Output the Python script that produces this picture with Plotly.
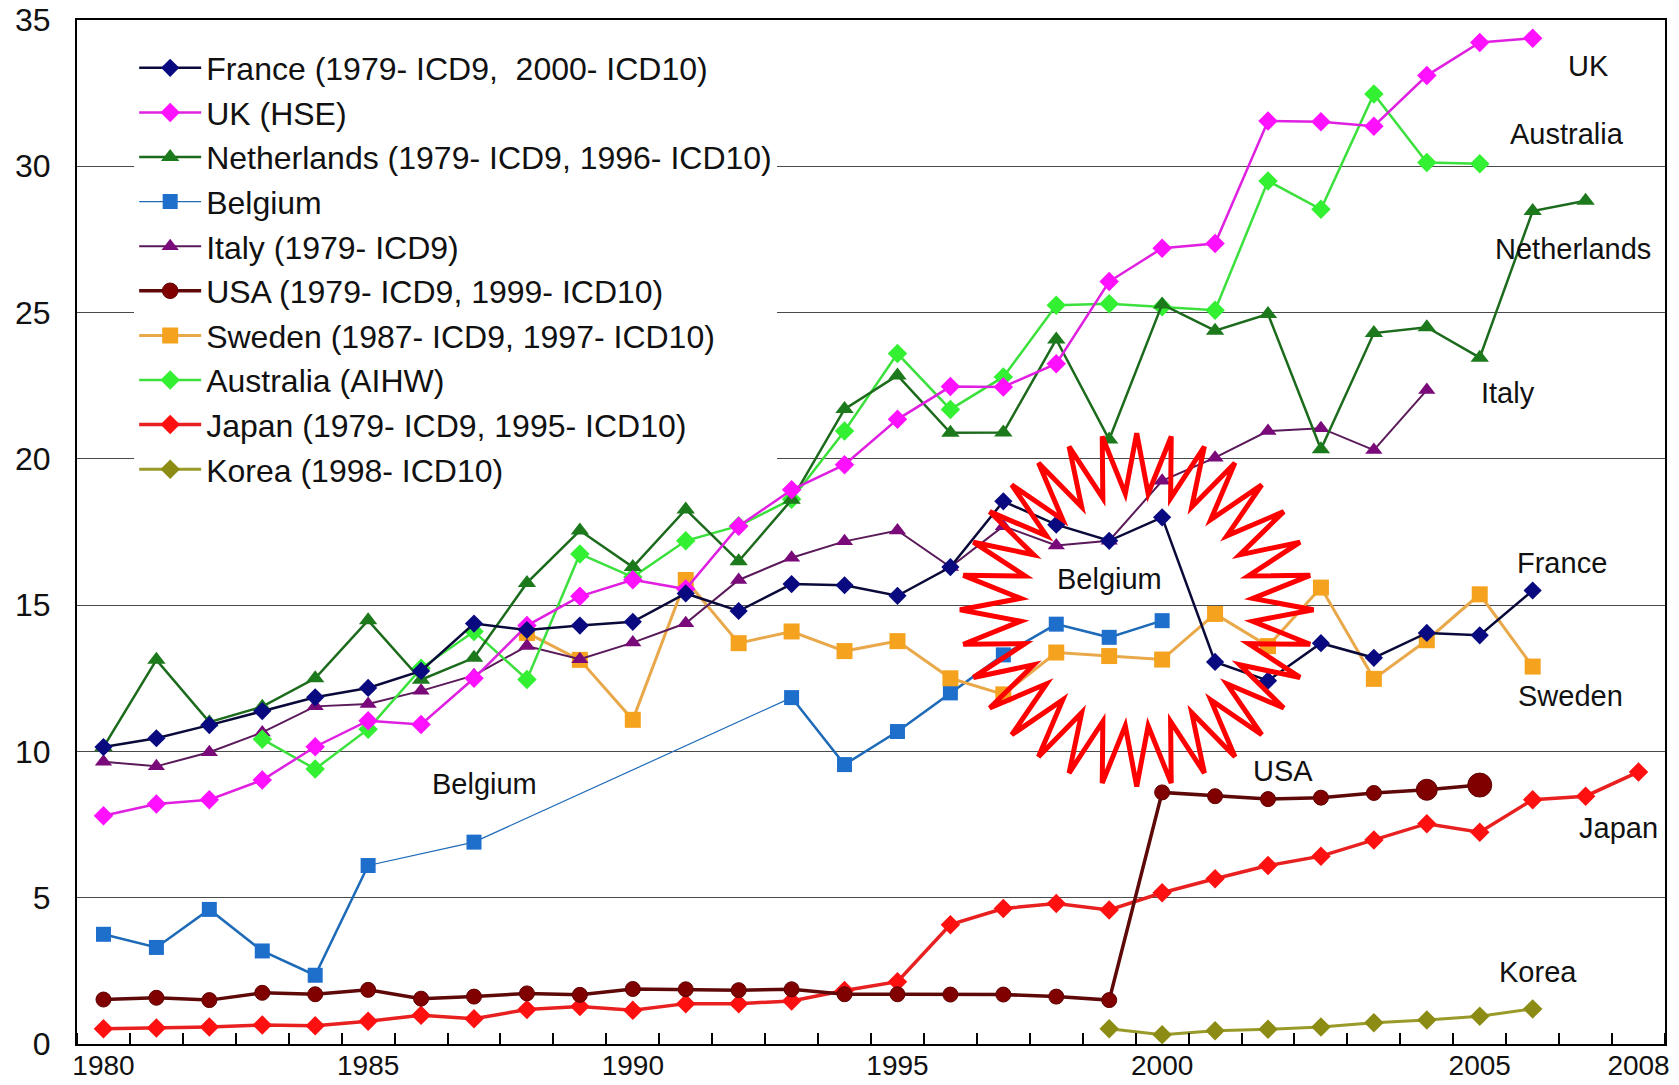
import math
import plotly.graph_objects as go

# ---------------- data ----------------
years = list(range(1979, 2009))          # 30 category slots on the x axis
tick_pos = [1979, 1984, 1989, 1994, 1999, 2005, 2008]
tick_text = ["1980", "1985", "1990", "1995", "2000", "2005", "2008"]

france_start = 1979
france = [10.15, 10.45, 10.9, 11.38, 11.85, 12.17, 12.75, 14.37, 14.15, 14.3, 14.43, 15.4, 14.8, 15.72,
          15.68, 15.32, 16.3, 18.55, 17.75, 17.2, 18.0, 13.06, 12.42, 13.7, 13.2, 14.05, 13.97, 15.5]
uk_start = 1979
uk = [7.8, 8.2, 8.35, 9.02, 10.16, 11.05, 10.92, 12.5, 14.3, 15.3, 15.87, 15.55, 17.7, 18.94, 19.8,
      21.35, 22.47, 22.46, 23.25, 26.06, 27.2, 27.36, 31.55, 31.52, 31.37, 33.1, 34.23, 34.38]
nl_start = 1979
netherlands = [10.15, 13.13, 11.0, 11.53, 12.5, 14.48, 12.45, 13.2, 15.76, 17.55, 16.3, 18.27, 16.5, 18.6,
               21.7, 22.85, 20.89, 20.9, 24.08, 20.66, 25.28, 24.38, 24.95, 20.33, 24.3, 24.5, 23.46,
               28.47, 28.82]
be_start = 1979
belgium = [3.75, 3.3, 4.6, 3.18, 2.35, 6.1, None, 6.9, None, None, None, None, None, 11.84, 9.55, 10.68,
           12.0, 13.3, 14.35, 13.9, 14.47]
it_start = 1979
italy = [9.65, 9.49, 9.97, 10.65, 11.54, 11.62, 12.07, 12.6, 13.6, 13.15, 13.72, 14.38, 15.86, 16.62,
         17.18, 17.55, 16.3, 17.7, 17.04, 17.2, 19.25, 20.04, 20.95, 21.05, 20.3, 22.35]
usa_start = 1979
usa = [1.52, 1.58, 1.5, 1.75, 1.7, 1.85, 1.55, 1.62, 1.73, 1.68, 1.88, 1.87, 1.84, 1.87, 1.7, 1.7, 1.69,
       1.69, 1.62, 1.5, 8.6, 8.47, 8.37, 8.42, 8.58, 8.69, 8.85]
se_start = 1987
sweden = [14.05, 13.13, 11.08, 15.86, 13.7, 14.1, 13.43, 13.77, 12.5, 11.95, 13.38, 13.26, 13.14, 14.7,
          13.6, 15.6, 12.48, 13.8, 15.37, 12.9]
au_start = 1982
australia = [10.42, 9.4, 10.76, 12.84, 14.1, 12.46, 16.75, 15.96, 17.2, 17.71, 18.62, 20.95, 23.6, 21.69,
             22.8, 25.25, 25.3, 25.2, 25.08, 29.5, 28.53, 32.47, 30.13, 30.09]
jp_start = 1979
japan = [0.52, 0.55, 0.58, 0.65, 0.62, 0.78, 0.98, 0.86, 1.18, 1.28, 1.15, 1.38, 1.38, 1.47, 1.83, 2.13,
         4.08, 4.63, 4.8, 4.58, 5.17, 5.65, 6.1, 6.42, 6.97, 7.53, 7.24, 8.35, 8.47, 9.3]
kr_start = 1998
korea = [0.52, 0.32, 0.45, 0.5, 0.58, 0.73, 0.82, 0.95, 1.2]

legend_names = [
    "France (1979- ICD9,  2000- ICD10)",
    "UK (HSE)",
    "Netherlands (1979- ICD9, 1996- ICD10)",
    "Belgium",
    "Italy (1979- ICD9)",
    "USA (1979- ICD9, 1999- ICD10)",
    "Sweden (1987- ICD9, 1997- ICD10)",
    "Australia (AIHW)",
    "Japan (1979- ICD9, 1995- ICD10)",
    "Korea (1998- ICD10)",
]

label_text = ["UK", "Australia", "Netherlands", "Italy", "France", "Sweden", "USA", "Japan", "Korea",
              "Belgium", "Belgium"]
label_x = [2007.06, 2006.65, 2006.77, 2005.54, 2006.55, 2006.72, 2001.28, 2007.63, 2006.1, 1986.2, 1998.0]
label_y = [33.42, 31.11, 27.19, 22.24, 16.45, 11.91, 9.34, 7.4, 2.46, 8.9, 15.9]

# ---------------- figure ----------------
FONT = "Liberation Sans"
NARROW = "Liberation Sans Narrow, Liberation Sans, Arial"
fig = go.Figure()


def xs(start, vals):
    i0 = years.index(start)
    return years[i0:i0 + len(vals)]


def add(name, start, vals, color, symbol, msize, lw, lcolor=None, connect=False):
    fig.add_trace(go.Scatter(
        x=xs(start, vals), y=vals, name=name, mode="lines+markers",
        legendgroup=name, connectgaps=connect,
        line=dict(color=lcolor or color, width=lw),
        marker=dict(color=color, symbol=symbol, size=msize, opacity=1, line=dict(width=0)),
    ))


add(legend_names[8], jp_start, japan, "#FF1010", "diamond", 15, 3.5, "#E82020")
usa_sizes = [15] * (len(usa) - 2) + [21, 24]
fig.add_trace(go.Scatter(
    x=xs(usa_start, usa), y=usa, name=legend_names[5], mode="lines+markers", legendgroup=legend_names[5],
    line=dict(color="#5E0808", width=3.5),
    marker=dict(color="#800000", symbol="circle", size=usa_sizes, opacity=1,
                line=dict(width=1, color="#600000")),
))
add(legend_names[9], kr_start, korea, "#8C8C14", "diamond", 15, 3, "#9A9A2A")
# Belgium: thin connector across missing years, thick where consecutive
fig.add_trace(go.Scatter(
    x=xs(be_start, belgium), y=belgium, mode="lines", connectgaps=False, showlegend=False,
    hoverinfo="skip", line=dict(color="#1F6BB8", width=2.5),
))
add(legend_names[3], be_start, belgium, "#1E6FCC", "square", 15, 1.2, "#1F6BB8", connect=True)
add(legend_names[6], se_start, sweden, "#F5A21E", "square", 16, 3, "#E9A84A")
add(legend_names[4], it_start, italy, "#7A0A7A", "triangle-up", 15, 2, "#5A1A5A")
add(legend_names[7], au_start, australia, "#33F033", "diamond", 15, 2.5, "#3CE03C")
add(legend_names[2], nl_start, netherlands, "#1C7A1C", "triangle-up", 16, 2.5, "#1C6A1C")
add(legend_names[1], uk_start, uk, "#FF10FF", "diamond", 15, 2.5, "#E020E0")
add(legend_names[0], france_start, france, "#0A0A80", "diamond", 14, 2.5, "#0A0A3A")

for tr in fig.data:
    if tr.name in legend_names:
        tr.legendrank = legend_names.index(tr.name) + 1

# starburst decoration
cx, cy = 1998.52, 14.84
rx_out, ry_out = 3.34, 6.04
ratio_in = 0.66
n_pts = 32
pts = []
for k in range(2 * n_pts):
    ang = math.pi / 2 + k * math.pi / n_pts
    r = 1.0 if k % 2 == 0 else ratio_in
    pts.append((cx + rx_out * r * math.cos(ang), cy + ry_out * r * math.sin(ang)))
path = "M " + " L ".join(f"{px:.4f},{py:.4f}" for px, py in pts) + " Z"
fig.add_shape(type="path", path=path, xref="x", yref="y", layer="above",
              line=dict(color="#FF0000", width=5), fillcolor="rgba(0,0,0,0)")

for t, x, y in zip(label_text, label_x, label_y):
    fig.add_annotation(x=x, y=y, xref="x", yref="y", text=t, showarrow=False,
                       font=dict(family=FONT, size=29, color="#111111"))

fig.update_layout(
    width=1679, height=1085,
    margin=dict(l=77, r=14, t=20, b=41, autoexpand=False),
    paper_bgcolor="white", plot_bgcolor="white",
    font=dict(family=FONT, color="#111111"),
    showlegend=True,
    legend=dict(x=0.036, y=0.98, xanchor="left", yanchor="top", bgcolor="white",
                borderwidth=0, font=dict(family=FONT, size=32, color="#111111"),
                tracegroupgap=5, itemwidth=62, traceorder="normal"),
)
fig.update_xaxes(
    range=[1978.5, 2008.5], tickmode="array", tickvals=tick_pos, ticktext=tick_text,
    ticks="", showgrid=False, zeroline=False, automargin=False,
    showline=True, linecolor="black", linewidth=2, mirror=True,
    tickfont=dict(family=NARROW, size=28, color="#111111"), ticklabelstandoff=-5,
    minor=dict(ticks="inside", ticklen=11, tickcolor="black", tickwidth=1.5,
               tickmode="linear", tick0=1978.5, dtick=1, showgrid=False),
)
fig.update_yaxes(
    range=[0, 35], tickmode="linear", tick0=0, dtick=5, ticks="",
    showgrid=True, gridcolor="#4A4A4A", gridwidth=1.3, zeroline=False, automargin=False,
    showline=True, linecolor="black", linewidth=2, mirror=True,
    tickfont=dict(family=NARROW, size=32, color="#111111"), ticklabelstandoff=18,
)

fig.write_html("out.html", config={"displayModeBar": False},
               post_script="document.body.style.margin='0';document.body.style.overflow='hidden';")
